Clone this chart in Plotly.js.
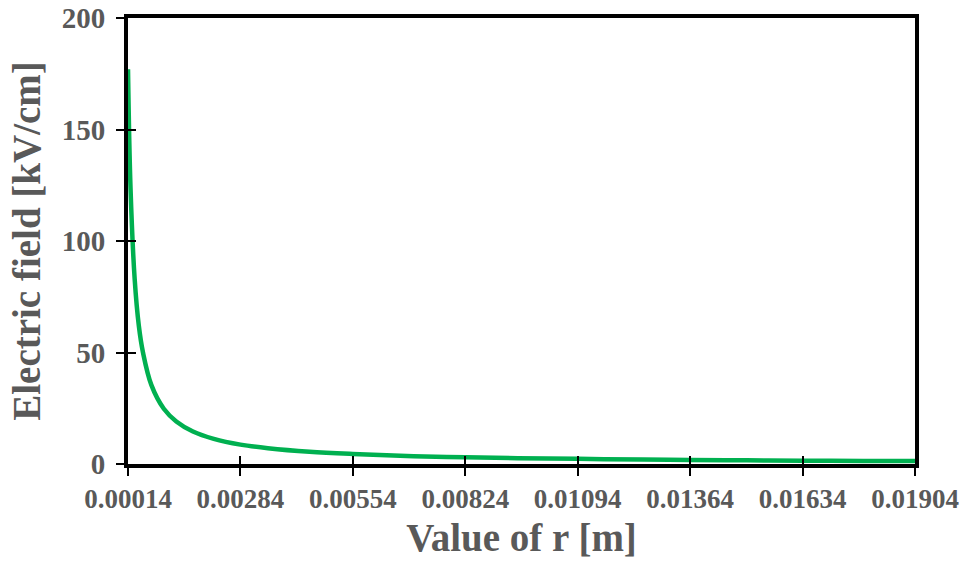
<!DOCTYPE html>
<html>
<head>
<meta charset="utf-8">
<script src="https://cdn.plot.ly/plotly-3.0.1.min.js"></script>
<style>
  html, body { margin: 0; padding: 0; background: #ffffff; }
  #chart { width: 966px; height: 569px; }
</style>
</head>
<body>
<div id="chart"></div>
<script>
// Radial distance r [m] and electric field [kV/cm]
const rValues = [0.00014, 0.00020, 0.00030, 0.00040, 0.00050, 0.00070, 0.00100, 0.00130,
                 0.00170, 0.00220, 0.00284, 0.00350, 0.00450, 0.00554, 0.00700, 0.00824,
                 0.00950, 0.01094, 0.01250, 0.01364, 0.01500, 0.01634, 0.01780, 0.01904];
const fieldValues = [177, 124, 83, 62, 50, 35.5, 24.8, 19.1,
                     14.6, 11.3, 8.7, 7.1, 5.5, 4.5, 3.5, 3.0,
                     2.6, 2.3, 2.0, 1.8, 1.65, 1.5, 1.4, 1.3];

// Axis ticks
const xTickVals = [0.00014, 0.00284, 0.00554, 0.00824, 0.01094, 0.01364, 0.01634, 0.01904];
const xTickText = ["0.00014", "0.00284", "0.00554", "0.00824", "0.01094", "0.01364", "0.01634", "0.01904"];
const yTickVals = [0, 50, 100, 150, 200];

const serif = "Liberation Serif, Times New Roman, serif";
const grey = "#595959";
const xRange = [0.00014, 0.01904];
const yRange = [0, 200];

const traces = [{
  x: rValues,
  y: fieldValues,
  type: "scatter",
  mode: "lines",
  line: { color: "#00B050", width: 4.5, shape: "spline", smoothing: 1.0 },
  hoverinfo: "x+y"
}];

const layout = {
  width: 966,
  height: 569,
  margin: { l: 128, r: 51, t: 18, b: 105 },
  paper_bgcolor: "#ffffff",
  plot_bgcolor: "#ffffff",
  showlegend: false,
  xaxis: {
    range: xRange,
    tickvals: xTickVals,
    ticktext: xTickText,
    ticks: "outside",
    ticklen: 8,
    tickwidth: 2,
    tickcolor: "#000000",
    showgrid: false,
    zeroline: false,
    showline: true,
    linecolor: "#000000",
    linewidth: 4,
    mirror: true,
    tickfont: { family: serif, color: grey, size: 27, weight: 700 },
    title: {
      text: "Value of r [m]",
      font: { family: serif, color: grey, size: 39, weight: 700 },
      standoff: 11
    }
  },
  yaxis: {
    range: yRange,
    tickvals: yTickVals,
    ticks: "outside",
    ticklen: 8,
    tickwidth: 2,
    tickcolor: "#000000",
    showgrid: false,
    zeroline: false,
    showline: true,
    linecolor: "#000000",
    linewidth: 4,
    mirror: true,
    tickfont: { family: serif, color: grey, size: 29, weight: 700 },
    ticklabelstandoff: 5,
    title: {
      text: "Electric field [kV/cm]",
      font: { family: serif, color: grey, size: 39, weight: 700 },
      standoff: 10
    }
  },
  // inner half of the crossing tick marks
  xaxis2: {
    overlaying: "x", matches: "x", range: xRange, tickvals: xTickVals,
    ticks: "inside", ticklen: 8, tickwidth: 2, tickcolor: "#000000",
    showticklabels: false, showgrid: false, zeroline: false, showline: false
  },
  yaxis2: {
    overlaying: "y", matches: "y", range: yRange, tickvals: yTickVals,
    ticks: "inside", ticklen: 8, tickwidth: 2, tickcolor: "#000000",
    showticklabels: false, showgrid: false, zeroline: false, showline: false
  }
};

// an empty trace so the overlay axes are drawn
traces.push({ x: [], y: [], xaxis: "x2", yaxis: "y2", type: "scatter", mode: "lines", hoverinfo: "skip" });

Plotly.newPlot("chart", traces, layout, { displayModeBar: false, staticPlot: true });
</script>
</body>
</html>
